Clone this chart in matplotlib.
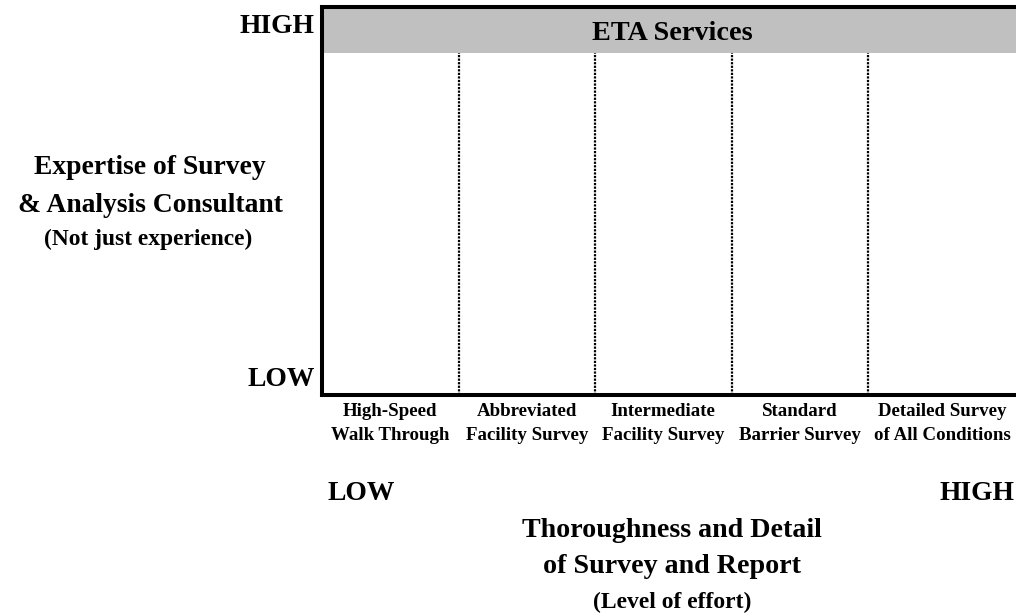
import matplotlib
matplotlib.use("Agg")
import matplotlib.pyplot as plt

plt.rcParams["font.family"] = ["Liberation Serif", "DejaVu Serif"]
plt.rcParams["font.weight"] = "bold"

W, H = 1016, 616

levels = ["High-Speed\nWalk Through", "Abbreviated\nFacility Survey", "Intermediate\nFacility Survey",
          "Standard\nBarrier Survey", "Detailed Survey\nof All Conditions"]
band_title = "ETA Services"
y_title = ["Expertise of Survey", "& Analysis Consultant"]
y_note = "(Not just experience)"
x_title = ["Thoroughness and Detail", "of Survey and Report"]
x_note = "(Level of effort)"
scale_ends = ["LOW", "HIGH"]

fig = plt.figure(figsize=(W / 100, H / 100), dpi=100)

def fx(px):
    return px / W

def fy(py):
    return 1 - py / H

# box region in pixels
left, right, top, bottom = 322, 1016, 7, 395
col_w = 136.5
xmax = (right - left) / col_w
ax = fig.add_axes([fx(left), fy(bottom), fx(right - left), (bottom - top) / H])
ax.set_xlim(0, xmax)
ax.set_ylim(0, 1)
band_lo = (bottom - 53) / (bottom - top)
ax.axhspan(band_lo, 1, color="#c0c0c0", lw=0)
for i in range(1, len(levels)):
    ax.axvline(i, ymin=0, ymax=band_lo, color="black", lw=1.6, linestyle=(0, (1, 0.6)))

for s in ["left", "bottom", "top"]:
    ax.spines[s].set_linewidth(2.9)
ax.spines["right"].set_visible(False)
ax.set_yticks([])
edges = list(range(len(levels))) + [xmax]
ax.set_xticks([(edges[i] + edges[i + 1]) / 2 for i in range(len(levels))])
ax.set_xticklabels(levels, fontsize=13.6, fontweight="bold", linespacing=1.55)
ax.tick_params(axis="x", length=0, pad=6)

kw = dict(fontweight="bold")
fig.text(fx(672), fy(40), band_title, ha="center", va="baseline", fontsize=20.3, **kw)

fig.text(fx(315), fy(33), scale_ends[1], ha="right", va="baseline", fontsize=19.8, **kw)
fig.text(fx(315), fy(386), scale_ends[0], ha="right", va="baseline", fontsize=19.8, **kw)

fig.text(fx(150), fy(174), y_title[0], ha="center", va="baseline", fontsize=19.9, **kw)
fig.text(fx(150), fy(212), y_title[1], ha="center", va="baseline", fontsize=19.9, **kw)
fig.text(fx(148), fy(245), y_note, ha="center", va="baseline", fontsize=16.9, **kw)

fig.text(fx(327), fy(500), scale_ends[0], ha="left", va="baseline", fontsize=19.8, **kw)
fig.text(fx(1015), fy(500), scale_ends[1], ha="right", va="baseline", fontsize=19.8, **kw)

fig.text(fx(672), fy(537), x_title[0], ha="center", va="baseline", fontsize=20.2, **kw)
fig.text(fx(672), fy(573), x_title[1], ha="center", va="baseline", fontsize=20.2, **kw)
fig.text(fx(672), fy(608), x_note, ha="center", va="baseline", fontsize=17, **kw)

fig.savefig("out.png", dpi=100)
